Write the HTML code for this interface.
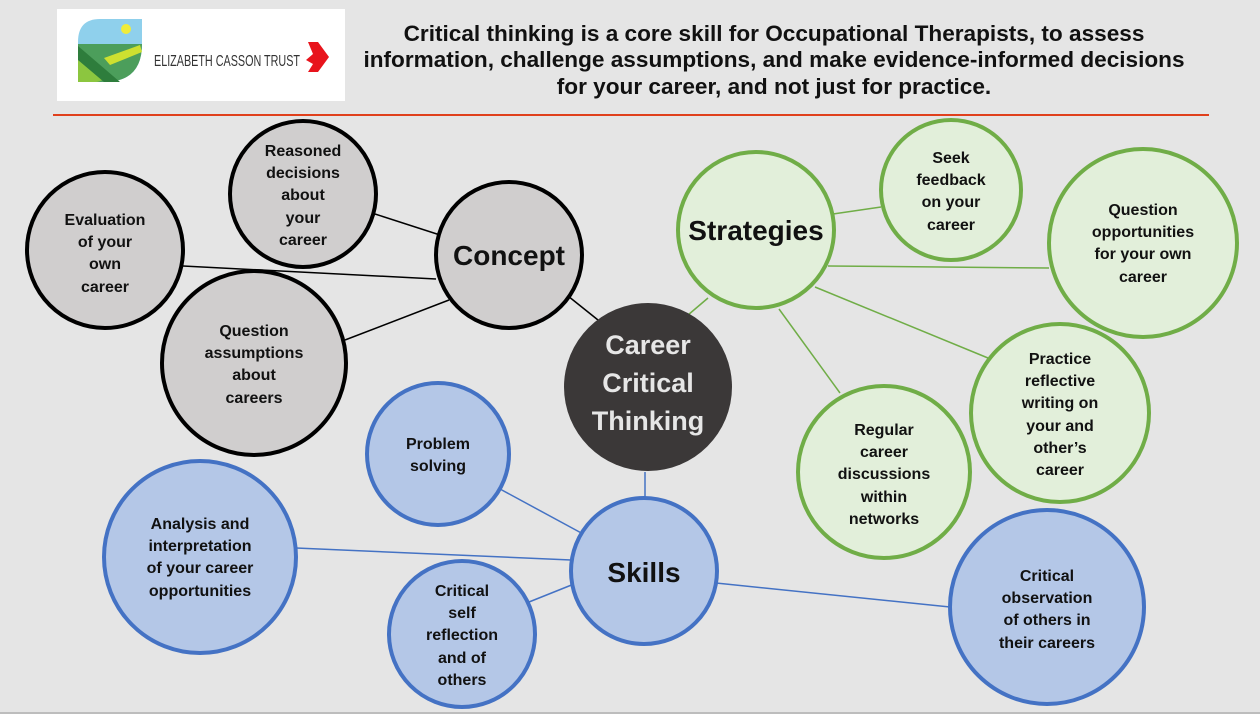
<!DOCTYPE html>
<html><head><meta charset="utf-8"><style>
html,body{margin:0;padding:0;background:#e5e5e5;}
svg{display:block;}
text{font-family:"Liberation Sans",sans-serif;font-weight:bold;}
</style></head><body>
<svg width="1260" height="714" viewBox="0 0 1260 714">
<rect x="0" y="0" width="1260" height="714" fill="#e5e5e5"/>
<rect x="0" y="712" width="1260" height="2" fill="#bdbdbd"/>
<!-- logo -->
<rect x="57" y="9" width="288" height="92" fill="#fff"/>
<path d="M78 42 Q78 19 100 19 L142 19 L142 44 Q142 82 104 82 L78 82 Z" fill="#8fd0ec"/>
<path d="M78 44 L142 44 Q142 82 104 82 L78 82 Z" fill="#4c9e5b"/>
<path d="M78 56 L110 76 Q100 82 96 82 L78 82 Z" fill="#8cc63f"/>
<path d="M78 46 L120 82 L104 82 L78 60 Z" fill="#2e7d3c"/>
<path d="M104 58 L140 45 L142 52 L110 65 Z" fill="#cde030"/>
<circle cx="126" cy="29" r="5" fill="#f0ec3a"/>
<text x="154" y="66" font-size="16" fill="#333" style="font-weight:normal" textLength="146" lengthAdjust="spacingAndGlyphs">ELIZABETH CASSON TRUST</text>
<path d="M308 42 L318 42 L329 57 L318 72 L308 72 L313 64 L306 60 L313 54 Z" fill="#e8141c"/>
<!-- title -->
<g font-size="22.6" fill="#111" text-anchor="middle">
<text x="774" y="41">Critical thinking is a core skill for Occupational Therapists, to assess</text>
<text x="774" y="67">information, challenge assumptions, and make evidence-informed decisions</text>
<text x="774" y="94">for your career, and not just for practice.</text>
</g>
<rect x="53" y="114" width="1156" height="2" fill="#e0401c"/>
<!-- lines -->
<g stroke="#000" stroke-width="1.5">
<line x1="375" y1="214" x2="440" y2="235"/>
<line x1="183" y1="266" x2="436" y2="279"/>
<line x1="345" y1="340" x2="449" y2="300"/>
<line x1="568" y1="296" x2="598" y2="320"/>
</g>
<g stroke="#70ad47" stroke-width="1.5">
<line x1="708" y1="298" x2="688" y2="315"/>
<line x1="833" y1="214" x2="881" y2="207"/>
<line x1="828" y1="266" x2="1049" y2="268"/>
<line x1="815" y1="287" x2="988" y2="358"/>
<line x1="779" y1="309" x2="840" y2="393"/>
</g>
<g stroke="#4472c4" stroke-width="1.5">
<line x1="645" y1="472" x2="645" y2="499"/>
<line x1="500" y1="489" x2="585" y2="535"/>
<line x1="296" y1="548" x2="571" y2="560"/>
<line x1="529" y1="602" x2="574" y2="584"/>
<line x1="716" y1="583" x2="950" y2="607"/>
</g>
<!-- grey circles -->
<g fill="#d0cece" stroke="#000" stroke-width="4">
<circle cx="303" cy="194" r="73"/>
<circle cx="105" cy="250" r="78"/>
<circle cx="509" cy="255" r="73"/>
<circle cx="254" cy="363" r="92"/>
</g>
<circle cx="648" cy="387" r="84" fill="#3b3838"/>
<g fill="#e2efda" stroke="#70ad47" stroke-width="4">
<circle cx="756" cy="230" r="78"/>
<circle cx="951" cy="190" r="70"/>
<circle cx="1143" cy="243" r="94"/>
<circle cx="1060" cy="413" r="89"/>
<circle cx="884" cy="472" r="86"/>
</g>
<g fill="#b4c7e7" stroke="#4472c4" stroke-width="4">
<circle cx="438" cy="454" r="71"/>
<circle cx="200" cy="557" r="96"/>
<circle cx="644" cy="571" r="73"/>
<circle cx="462" cy="634" r="73"/>
<circle cx="1047" cy="607" r="97"/>
</g>
<!-- labels -->
<g font-size="16" fill="#111" text-anchor="middle">
<text x="303" y="156">Reasoned</text><text x="303" y="178">decisions</text><text x="303" y="200">about</text><text x="303" y="223">your</text><text x="303" y="245">career</text>
<text x="105" y="225">Evaluation</text><text x="105" y="247">of your</text><text x="105" y="269">own</text><text x="105" y="292">career</text>
<text x="254" y="336">Question</text><text x="254" y="358">assumptions</text><text x="254" y="380">about</text><text x="254" y="403">careers</text>
<text x="951" y="163">Seek</text><text x="951" y="185">feedback</text><text x="951" y="207">on your</text><text x="951" y="230">career</text>
<text x="1143" y="215">Question</text><text x="1143" y="237">opportunities</text><text x="1143" y="259">for your own</text><text x="1143" y="282">career</text>
<text x="1060" y="364">Practice</text><text x="1060" y="386">reflective</text><text x="1060" y="408">writing on</text><text x="1060" y="431">your and</text><text x="1060" y="453">other’s</text><text x="1060" y="475">career</text>
<text x="884" y="435">Regular</text><text x="884" y="457">career</text><text x="884" y="479">discussions</text><text x="884" y="502">within</text><text x="884" y="524">networks</text>
<text x="438" y="449">Problem</text><text x="438" y="471">solving</text>
<text x="200" y="529">Analysis and</text><text x="200" y="551">interpretation</text><text x="200" y="573">of your career</text><text x="200" y="596">opportunities</text>
<text x="462" y="596">Critical</text><text x="462" y="618">self</text><text x="462" y="640">reflection</text><text x="462" y="663">and of</text><text x="462" y="685">others</text>
<text x="1047" y="581">Critical</text><text x="1047" y="603">observation</text><text x="1047" y="625">of others in</text><text x="1047" y="648">their careers</text>
</g>
<g font-size="28" fill="#111" text-anchor="middle">
<text x="509" y="265">Concept</text>
<text x="756" y="240">Strategies</text>
<text x="644" y="582">Skills</text>
</g>
<g font-size="27" fill="#e6e6e6" text-anchor="middle">
<text x="648" y="354">Career</text>
<text x="648" y="392">Critical</text>
<text x="648" y="430">Thinking</text>
</g>
</svg>
</body></html>
